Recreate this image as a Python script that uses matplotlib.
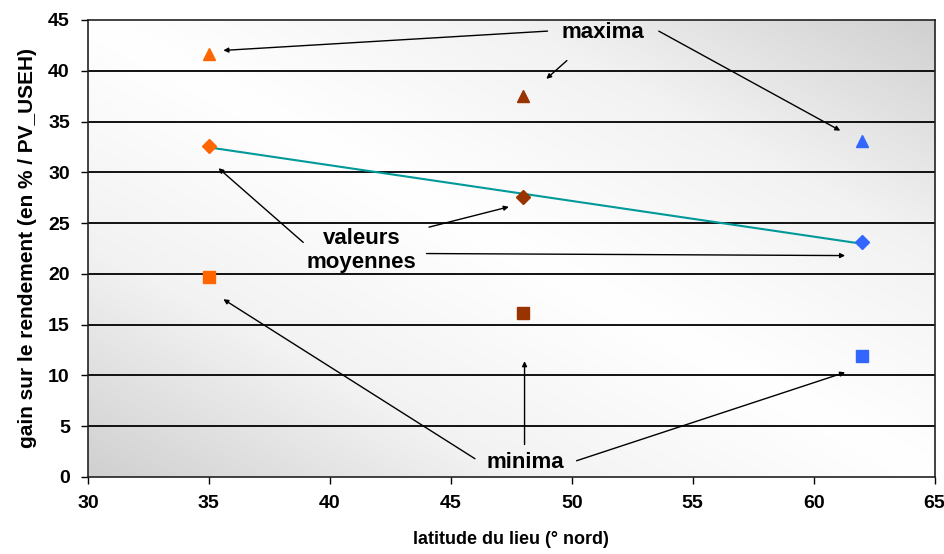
import numpy as np
import matplotlib
matplotlib.use('Agg')
import matplotlib.pyplot as plt
from matplotlib.colors import LinearSegmentedColormap

# Data
latitudes = [35, 48, 62]
gain_max = [41.6, 37.5, 33.1]
gain_mean = [32.6, 27.6, 23.1]
gain_min = [19.7, 16.1, 11.9]
point_colors = ['#FF6600', '#993300', '#3366FF']

x_ticks = [30, 35, 40, 45, 50, 55, 60, 65]
y_ticks = [0, 5, 10, 15, 20, 25, 30, 35, 40, 45]

FONT = ['Liberation Sans Narrow', 'Liberation Sans', 'DejaVu Sans']
plt.rcParams['font.family'] = FONT
plt.rcParams['font.weight'] = 'bold'

fig = plt.figure(figsize=(9.45, 5.54), dpi=100)
ax = fig.add_axes([0.093, 0.139, 0.896, 0.825])

# Gray diagonal gradient background (dark in bottom-left / top-right corners)
n = 200
u, v = np.meshgrid(np.linspace(0, 1, n), np.linspace(0, 1, n))
d = np.abs((u + v) - 1.0)
cmap = LinearSegmentedColormap.from_list('bg', ['#ffffff', '#f2f2f2', '#d0d0d0'])
ax.imshow(d, cmap=cmap, extent=[0, 1, 0, 1], origin='lower', transform=ax.transAxes,
          aspect='auto', zorder=0, interpolation='bicubic')

ax.set_xlim(30, 65)
ax.set_ylim(0, 45)
ax.set_xticks(x_ticks)
ax.set_yticks(y_ticks)
ax.tick_params(direction='out', length=5, width=1, labelsize=14, pad=8)
for lbl in ax.get_xticklabels() + ax.get_yticklabels():
    lbl.set_fontweight('bold')

for yv in y_ticks[1:-1]:
    ax.axhline(yv, color='#111111', lw=1.4, zorder=1)
for s in ax.spines.values():
    s.set_linewidth(1.2)
    s.set_color('#222222')

# Trend line over the mean values
coef = np.polyfit(latitudes, gain_mean, 1)
xs = np.array([latitudes[0], latitudes[-1]])
ax.plot(xs, np.polyval(coef, xs), color='#009999', lw=1.5, zorder=2)

for i, lat in enumerate(latitudes):
    c = point_colors[i]
    ax.plot(lat, gain_max[i], marker='^', ms=9, color=c, ls='none', zorder=3)
    ax.plot(lat, gain_mean[i], marker='D', ms=7, color=c, ls='none', zorder=3)
    ax.plot(lat, gain_min[i], marker='s', ms=8, color=c, ls='none', zorder=3)

arrow = dict(arrowstyle='-|>', color='black', lw=1.0, mutation_scale=7, shrinkA=0, shrinkB=0)
txt = dict(fontsize=16, fontweight='bold', ha='center', va='center', family=FONT)

# maxima
ax.text(51.3, 43.8, 'maxima', **txt)
ax.annotate('', xy=(35.6, 42.0), xytext=(49.0, 43.9), arrowprops=arrow)
ax.annotate('', xy=(48.95, 39.2), xytext=(49.8, 41.0), arrowprops=arrow)
ax.annotate('', xy=(61.1, 34.1), xytext=(53.6, 43.9), arrowprops=arrow)

# valeurs moyennes
ax.text(41.3, 22.3, 'valeurs\nmoyennes', linespacing=1.15, **txt)
ax.annotate('', xy=(35.4, 30.4), xytext=(38.9, 23.1), arrowprops=arrow)
ax.annotate('', xy=(47.4, 26.6), xytext=(44.1, 24.6), arrowprops=arrow)
ax.annotate('', xy=(61.3, 21.8), xytext=(44.0, 22.0), arrowprops=arrow)

# minima
ax.text(48.1, 1.4, 'minima', **txt)
ax.annotate('', xy=(35.6, 17.5), xytext=(46.0, 1.8), arrowprops=arrow)
ax.annotate('', xy=(48.05, 11.4), xytext=(48.05, 3.2), arrowprops=arrow)
ax.annotate('', xy=(61.3, 10.3), xytext=(50.2, 1.6), arrowprops=arrow)

ax.set_xlabel('latitude du lieu (° nord)', fontsize=13, fontweight='bold', labelpad=14)
ax.set_ylabel('gain sur le rendement (en % / PV_USEH)', fontsize=15, fontweight='bold', labelpad=8)

fig.savefig('out.png', dpi=100)
